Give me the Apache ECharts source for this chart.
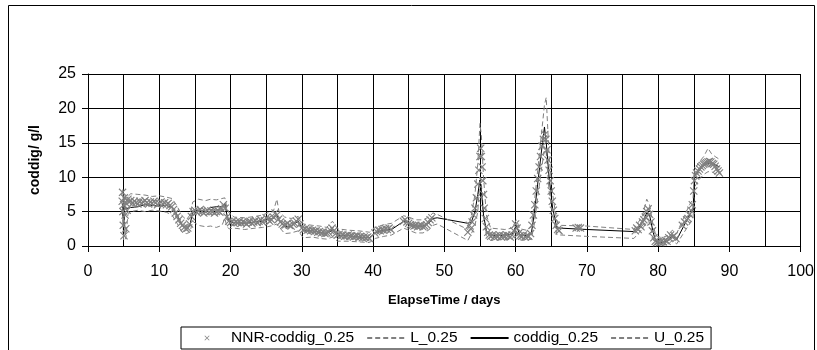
<!DOCTYPE html>
<html>
<head>
<meta charset="utf-8">
<script src="https://cdn.jsdelivr.net/npm/echarts@6/dist/echarts.min.js"></script>
<style>
  html, body { margin: 0; padding: 0; background: #fff; }
  #chart { width: 817px; height: 350px; }
</style>
</head>
<body>
<div id="chart"></div>
<script>
// time axis (days) shared by the three model lines
const lineDays = [
  4.8, 4.9, 5.0, 5.1, 5.3, 5.6, 6.0, 7.0, 8.0, 9.0,
  10.0, 11.0, 11.8, 12.5, 13.2, 13.8, 14.3, 14.7, 15.5, 16.5,
  17.2, 18.0, 18.8, 19.2, 19.5, 19.8, 20.5, 22.0, 23.5, 24.5,
  25.2, 26.0, 26.5, 26.8, 27.6, 28.5, 29.5, 30.2, 31.5, 32.5,
  33.5, 34.3, 35.0, 36.5, 38.0, 39.5, 40.3, 41.5, 42.6, 44.3,
  45.0, 46.0, 47.0, 47.8, 48.4, 49.0, 53.3, 53.8, 54.3, 54.7,
  55.0, 55.2, 55.5, 55.9, 56.5, 57.5, 58.5, 59.5, 60.1, 60.6,
  61.5, 62.2, 62.6, 63.1, 63.6, 64.05, 64.3, 64.7, 65.2, 65.8,
  66.3, 70.0, 76.6, 77.2, 77.8, 78.4, 78.8, 79.3, 79.7, 80.5,
  81.3, 82.0, 82.6, 84.4, 84.9, 85.1, 85.6, 86.4, 87.0, 87.5,
  88.0, 88.6
];
const coddig = [
  6.2, 5.5, 1.8, 5.8, 5.4, 5.5, 5.6, 5.7, 6.0, 5.9,
  5.8, 5.9, 5.6, 4.5, 3.0, 2.5, 3.0, 5.0, 5.2, 5.0,
  5.6, 5.7, 5.7, 6.2, 4.5, 3.5, 3.4, 3.3, 3.5, 3.6,
  3.9, 4.0, 4.5, 3.8, 2.8, 2.9, 3.6, 2.2, 2.2, 2.0,
  1.8, 2.3, 1.5, 1.5, 1.3, 1.2, 1.9, 2.3, 2.4, 3.6,
  3.3, 2.9, 2.9, 3.3, 4.0, 4.1, 3.3, 3.5, 5.0, 7.5,
  9.6, 8.0, 4.5, 2.2, 1.5, 1.5, 1.6, 1.7, 3.0, 1.6,
  1.5, 1.8, 4.5, 9.0, 13.5, 17.3, 15.0, 10.0, 5.5, 2.6,
  2.6, 2.4, 2.1, 2.6, 3.4, 4.8, 4.5, 2.0, 0.6, 0.5,
  0.7, 1.5, 0.9, 4.5, 5.2, 10.2, 10.8, 11.7, 12.0, 12.1,
  11.8, 11.5
];
const lowerL = [
  5.0, 4.0, 0.9, 4.2, 1.0, 4.6, 5.0, 5.2, 5.0, 5.2,
  5.1, 4.9, 4.5, 3.3, 2.0, 1.8, 2.0, 3.6, 3.0, 2.8,
  2.9, 2.7, 3.0, 4.0, 2.8, 2.5, 2.6, 2.4, 2.6, 2.7,
  2.8, 3.0, 3.2, 2.8, 1.8, 1.9, 2.2, 1.2, 1.3, 1.1,
  1.0, 1.3, 0.7, 0.7, 0.6, 0.5, 1.1, 1.4, 1.6, 2.6,
  2.3, 1.9, 1.9, 2.3, 3.0, 3.2, 0.8, 1.8, 3.0, 5.0,
  10.0, 9.0, 5.0, 1.5, 0.8, 0.9, 0.9, 1.0, 2.0, 0.9,
  0.8, 1.0, 3.0, 7.0, 11.0, 14.0, 13.5, 8.0, 4.5, 1.6,
  1.6, 1.4, 1.1, 1.8, 2.5, 3.5, 3.5, 1.0, 0.1, 0.1,
  0.2, 0.8, 0.3, 3.2, 4.0, 8.5, 9.5, 10.4, 10.8, 10.8,
  10.5, 10.3
];
const upperU = [
  7.6, 8.2, 3.0, 7.0, 6.8, 7.2, 7.6, 7.5, 7.4, 7.2,
  7.3, 7.1, 6.9, 5.8, 4.4, 3.8, 4.5, 6.4, 6.8, 6.6,
  6.8, 6.7, 6.9, 7.0, 5.5, 4.8, 4.2, 4.1, 4.3, 4.5,
  4.8, 5.0, 6.8, 5.0, 4.2, 4.0, 4.3, 3.2, 3.0, 2.9,
  2.7, 3.6, 2.5, 2.3, 2.2, 2.0, 2.7, 3.1, 3.3, 4.4,
  4.2, 3.8, 3.8, 4.2, 4.8, 4.6, 2.4, 4.5, 7.5, 12.0,
  17.8, 16.0, 10.0, 4.5, 2.6, 2.5, 2.4, 2.6, 3.8, 2.5,
  2.3, 2.8, 6.0, 11.0, 16.0, 20.5, 21.6, 13.0, 7.5, 3.5,
  3.0, 2.9, 2.4, 3.4, 4.4, 6.8, 6.0, 3.0, 1.5, 1.2,
  1.5, 2.3, 1.8, 6.0, 6.8, 11.0, 12.0, 13.0, 14.2, 13.4,
  13.0, 12.6
];

// NNR estimate, one [day, value] per marker
const nnrPoints = [
  [4.8, 6.5], [4.85, 7.8], [4.9, 5.0], [4.95, 3.0], [5.0, 6.0], [5.05, 1.5], [5.1, 7.0], [5.2, 4.5],
  [5.3, 2.5], [5.35, 6.2], [5.5, 5.2], [5.6, 6.8], [5.75, 6.4], [6.0, 6.6], [6.25, 6.2], [6.5, 6.5],
  [6.75, 6.3], [7.0, 6.1], [7.25, 6.5], [7.5, 6.2], [7.75, 6.4], [8.0, 6.6], [8.25, 6.3], [8.5, 6.1],
  [8.75, 6.4], [9.0, 6.2], [9.25, 6.5], [9.5, 6.3], [9.75, 6.0], [10.0, 6.2], [10.25, 6.4], [10.5, 6.1],
  [10.75, 6.3], [11.0, 6.0], [11.25, 6.2], [11.5, 5.9], [11.75, 5.7], [12.0, 5.3], [12.25, 4.8], [12.5, 4.3],
  [12.75, 3.8], [13.0, 3.3], [13.25, 3.0], [13.5, 2.7], [13.75, 2.5], [14.0, 2.6], [14.25, 3.2], [14.5, 4.3],
  [14.75, 5.0], [15.0, 5.2], [15.25, 4.9], [15.5, 5.1], [15.75, 5.3], [16.0, 5.0], [16.25, 4.8], [16.5, 5.0],
  [16.75, 5.2], [17.0, 4.9], [17.25, 5.1], [17.5, 5.0], [17.75, 4.8], [18.0, 5.0], [18.25, 5.1], [18.5, 4.9],
  [18.75, 5.4], [19.0, 6.0], [19.25, 5.5], [19.5, 4.2], [19.75, 3.6],
  [20.0, 3.4], [20.25, 3.6], [20.5, 3.3], [20.75, 3.5], [21.0, 3.4], [21.25, 3.6], [21.5, 3.3], [21.75, 3.5],
  [22.0, 3.4], [22.25, 3.2], [22.5, 3.5], [22.75, 3.6], [23.0, 3.3], [23.25, 3.5], [23.5, 3.7], [23.75, 3.4],
  [24.0, 3.6], [24.25, 3.8], [24.5, 3.5], [24.75, 3.7], [25.0, 4.1], [25.25, 3.9], [25.5, 3.6], [25.75, 3.8],
  [26.0, 4.2], [26.25, 4.8], [26.5, 4.5], [26.75, 3.9], [27.0, 3.5],
  [27.25, 3.2], [27.5, 3.0], [27.75, 3.1], [28.0, 3.3], [28.25, 3.0], [28.5, 2.9], [28.75, 3.2], [29.0, 3.3],
  [29.25, 3.6], [29.5, 3.9], [29.75, 3.2], [30.0, 2.6], [30.25, 2.4], [30.5, 2.5], [30.75, 2.3], [31.0, 2.4],
  [31.25, 2.2], [31.5, 2.3], [31.75, 2.1], [32.0, 2.2], [32.25, 2.0], [32.5, 2.1], [32.75, 1.9], [33.0, 2.0],
  [33.25, 1.8], [33.5, 1.9], [33.75, 2.0], [34.0, 2.3], [34.25, 2.6], [34.5, 2.2], [34.75, 1.8], [35.0, 1.6],
  [35.25, 1.7], [35.5, 1.5], [35.75, 1.6], [36.0, 1.4], [36.25, 1.5], [36.5, 1.6], [36.75, 1.4], [37.0, 1.5],
  [37.25, 1.3], [37.5, 1.4], [37.75, 1.5], [38.0, 1.3], [38.25, 1.4], [38.5, 1.2], [38.75, 1.3], [39.0, 1.2],
  [39.25, 1.3], [39.5, 1.1],
  [40.25, 1.9], [40.5, 2.1], [40.75, 2.3], [41.0, 2.2], [41.25, 2.4], [41.5, 2.3], [41.75, 2.5], [42.0, 2.4],
  [42.25, 2.6], [42.5, 2.4],
  [44.25, 3.6], [44.5, 3.8], [44.75, 3.5], [45.0, 3.3], [45.25, 3.1], [45.5, 3.0], [45.75, 2.9], [46.0, 3.0],
  [46.25, 2.8], [46.5, 2.9], [46.75, 3.0], [47.0, 2.8], [47.25, 2.9], [47.5, 3.1], [47.75, 3.4], [48.0, 3.8],
  [48.25, 4.1],
  [53.3, 2.0], [53.5, 3.0], [53.7, 2.5], [53.9, 3.5], [54.1, 4.5], [54.3, 5.5], [54.5, 7.0], [54.7, 9.0],
  [54.85, 11.0], [55.0, 13.0], [55.1, 14.2], [55.2, 13.0], [55.3, 11.5], [55.4, 9.5], [55.5, 7.5], [55.6, 5.5],
  [55.75, 4.0], [55.9, 2.8], [56.1, 2.0], [56.3, 1.6], [56.5, 1.4], [56.75, 1.6], [57.0, 1.3], [57.25, 1.5],
  [57.5, 1.4], [57.75, 1.6], [58.0, 1.3], [58.25, 1.5], [58.5, 1.4], [58.75, 1.6], [59.0, 1.5], [59.25, 1.3],
  [59.5, 1.6], [59.75, 2.2], [60.0, 3.2], [60.2, 2.6], [60.4, 1.8], [60.6, 1.5], [60.85, 1.4], [61.1, 1.6],
  [61.35, 1.3], [61.6, 1.5], [61.85, 1.4], [62.1, 1.8], [62.3, 3.0], [62.5, 4.5], [62.7, 6.0], [62.9, 8.0],
  [63.1, 9.8], [63.3, 11.5], [63.5, 13.0], [63.7, 14.5], [63.9, 15.5], [64.1, 16.2], [64.25, 15.5], [64.4, 14.0],
  [64.55, 12.5], [64.7, 11.0], [64.85, 9.5], [65.0, 8.0], [65.15, 6.5], [65.3, 5.2], [65.5, 4.0], [65.7, 3.0],
  [65.9, 2.4], [66.1, 2.2],
  [68.5, 2.6], [68.8, 2.7], [69.1, 2.6],
  [76.8, 2.2], [77.0, 2.6], [77.2, 2.4], [77.4, 3.0], [77.6, 2.8], [77.8, 3.5], [78.0, 3.8], [78.2, 4.2],
  [78.4, 5.0], [78.6, 5.4], [78.8, 4.6], [79.0, 3.5], [79.2, 2.2], [79.4, 1.2], [79.6, 0.7], [79.8, 0.5],
  [80.0, 0.6], [80.25, 0.5], [80.5, 0.7], [80.75, 0.6], [81.0, 0.8], [81.25, 0.7], [81.5, 1.2], [81.75, 1.6],
  [82.0, 1.3], [82.25, 1.5], [82.5, 1.1],
  [83.4, 3.0], [83.7, 3.5], [84.0, 3.8],
  [84.2, 4.0], [84.4, 4.6], [84.6, 5.2], [84.8, 6.0], [85.0, 8.0], [85.1, 9.5], [85.25, 10.2], [85.4, 10.6],
  [85.6, 10.9], [85.8, 11.2], [86.0, 11.5], [86.2, 11.7], [86.4, 11.9], [86.6, 12.0], [86.8, 12.1], [87.0, 12.2],
  [87.2, 12.3], [87.4, 12.2], [87.6, 12.0], [87.8, 11.9], [88.0, 11.6], [88.2, 11.2], [88.4, 10.9], [88.6, 10.6]
];

const seriesNames = ['NNR-coddig_0.25', 'L_0.25', 'coddig_0.25', 'U_0.25'];

const FONT = "'Liberation Sans', Arial, sans-serif";
const X_MARK = 'path://M0,1L1,0L5,4L9,0L10,1L6,5L10,9L9,10L5,6L1,10L0,9L4,5Z';
// same cross, but inside a 38x6 box so the legend keeps the full icon slot
const X_LEGEND = 'path://M0,3L0.05,3L0,3.05Z M38,3L37.95,3L38,3.05Z ' +
  'M16.5,1L17,0.5L19,2.5L21,0.5L21.5,1L19.5,3L21.5,5L21,5.5L19,3.5L17,5.5L16.5,5L18.5,3Z';

const pair = (vals) => lineDays.map((d, i) => [d, vals[i]]);

const chart = echarts.init(document.getElementById('chart'), null, { renderer: 'canvas' });

// hide the little dot ECharts puts on line legend icons
const hideDot = { opacity: 0, color: 'transparent', borderColor: 'transparent' };

const option = {
  backgroundColor: '#fff',
  animation: false,
  graphic: [{
    type: 'rect',
    shape: { x: 8.5, y: 5.5, width: 806, height: 400 },
    style: { fill: 'none', stroke: '#000', lineWidth: 1 },
    silent: true,
    z: -1
  }],
  grid: { left: 88, right: 16, top: 74, bottom: 104 },
  legend: {
    data: [
      { name: seriesNames[0], icon: X_LEGEND },
      { name: seriesNames[1], itemStyle: hideDot },
      { name: seriesNames[2], itemStyle: hideDot },
      { name: seriesNames[3], itemStyle: hideDot }
    ],
    left: 181,
    top: 327,
    padding: [3, 7],
    itemWidth: 38,
    itemHeight: 6,
    itemGap: 12,
    borderColor: '#000',
    borderWidth: 1,
    backgroundColor: '#fff',
    textStyle: { fontFamily: FONT, fontSize: 15.5, color: '#000' }
  },
  xAxis: {
    type: 'value',
    min: 0,
    max: 100,
    interval: 10,
    name: 'ElapseTime / days',
    nameLocation: 'middle',
    nameGap: 48,
    nameTextStyle: { fontFamily: FONT, fontSize: 13, fontWeight: 'bold', color: '#000' },
    axisLine: { show: true, lineStyle: { color: '#000', width: 1 } },
    axisTick: { show: true, length: 6, lineStyle: { color: '#000' } },
    axisLabel: { fontFamily: FONT, fontSize: 16, color: '#000', margin: 18 },
    splitLine: { show: true, lineStyle: { color: '#000', width: 1 } },
    minorTick: { show: false, splitNumber: 2 },
    minorSplitLine: { show: true, lineStyle: { color: '#000', width: 1 } }
  },
  yAxis: {
    type: 'value',
    min: 0,
    max: 25,
    interval: 5,
    name: 'coddig/ g/l',
    nameLocation: 'middle',
    nameGap: 46,
    nameTextStyle: { fontFamily: FONT, fontSize: 14, fontWeight: 'bold', color: '#000' },
    axisLine: { show: true, lineStyle: { color: '#000', width: 1 } },
    axisTick: { show: true, length: 6, lineStyle: { color: '#000' } },
    axisLabel: { fontFamily: FONT, fontSize: 16, color: '#000', margin: 12 },
    splitLine: { show: true, lineStyle: { color: '#000', width: 1 } }
  },
  series: [
    {
      name: 'L_0.25',
      type: 'line',
      data: pair(lowerL),
      symbol: 'none',
      lineStyle: { color: '#808080', width: 1, type: [5, 3] },
      itemStyle: { color: '#808080' },
      z: 2
    },
    {
      name: 'coddig_0.25',
      type: 'line',
      data: pair(coddig),
      symbol: 'none',
      lineStyle: { color: '#000', width: 1 },
      itemStyle: { color: '#000' },
      z: 2
    },
    {
      name: 'U_0.25',
      type: 'line',
      data: pair(upperU),
      symbol: 'none',
      lineStyle: { color: '#808080', width: 1, type: [5, 3] },
      itemStyle: { color: '#808080' },
      z: 2
    },
    {
      name: 'NNR-coddig_0.25',
      type: 'scatter',
      data: nnrPoints,
      symbol: X_MARK,
      symbolSize: 8,
      symbolKeepAspect: true,
      itemStyle: { color: '#808080', opacity: 1 },
      z: 3
    }
  ]
};

chart.setOption(option);
</script>
</body>
</html>
